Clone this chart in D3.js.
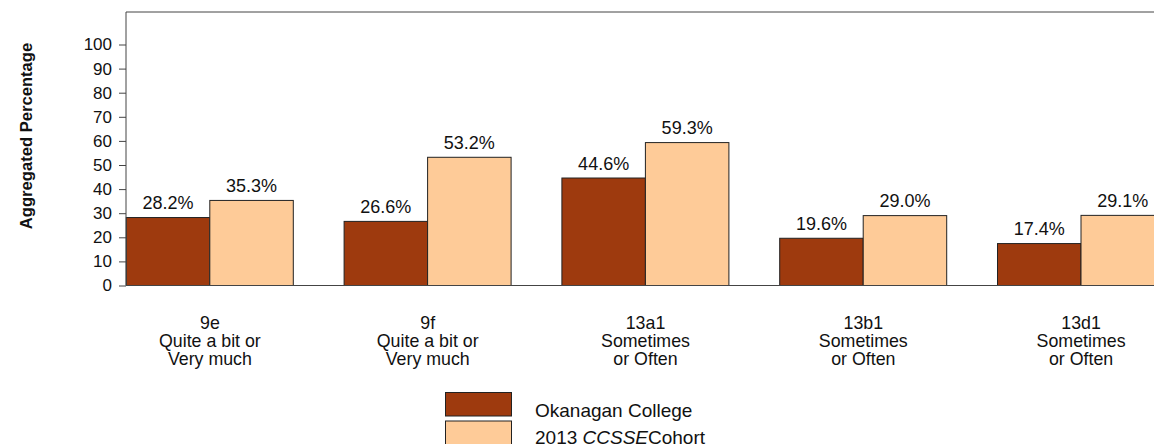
<!DOCTYPE html>
<html><head><meta charset="utf-8">
<script src="https://cdn.jsdelivr.net/npm/d3@7"></script>
<style>body{margin:0;background:#fff}svg{display:block;font-family:"Liberation Sans",Arial,sans-serif}</style>
</head><body>
<script>
const categories = ["9e","9f","13a1","13b1","13d1"];
const categoryLines = [["9e","Quite a bit or","Very much"],["9f","Quite a bit or","Very much"],["13a1","Sometimes","or Often"],["13b1","Sometimes","or Often"],["13d1","Sometimes","or Often"]];
const seriesNames = ["Okanagan College","2013 CCSSE Cohort"];
const okanagan = [28.2,26.6,44.6,19.6,17.4];
const cohort = [35.3,53.2,59.3,29.0,29.1];
const yTicks = [0,10,20,30,40,50,60,70,80,90,100];
const colors = ["#9e3a0e","#fecb98"];

(function(){
const W=1154,H=444;
const svg=d3.select("body").append("svg").attr("width",W).attr("height",H);
const pLeft=126, pTop=12, pBottom=285.5;
const y=d3.scaleLinear().domain([0,100]).range([pBottom,44.5]);
const x0=d3.scaleBand().domain(categories).range([101,101+5*217.8]);
const x1=d3.scaleBand().domain([0,1]).range([25.3,25.3+167]);

svg.append("line").attr("x1",pLeft).attr("x2",W).attr("y1",pTop).attr("y2",pTop).attr("stroke","#444");

const data=[okanagan,cohort];
categories.forEach((c,i)=>{
  const g=svg.append("g").attr("transform",`translate(${x0(c)},0)`);
  [0,1].forEach(s=>{
    const v=data[s][i];
    g.append("rect").attr("x",x1(s)).attr("width",x1.bandwidth()).attr("y",y(v)).attr("height",y(0)-y(v))
      .attr("fill",colors[s]).attr("stroke","#222").attr("stroke-width",1);
    g.append("text").attr("x",x1(s)+x1.bandwidth()/2).attr("y",y(v)-8.5).attr("text-anchor","middle")
      .attr("font-size",18).attr("fill","#111").text(v.toFixed(1)+"%");
  });
  const t=g.append("text").attr("text-anchor","middle").attr("font-size",17.8).attr("fill","#111");
  categoryLines[i].forEach((l,k)=>t.append("tspan").attr("x",x0.bandwidth()/2).attr("y",328.5+k*18).text(l));
});

const ya=svg.append("g").attr("transform",`translate(${pLeft},0)`)
  .call(d3.axisLeft(y).tickValues(yTicks).tickSize(7).tickPadding(7).tickSizeOuter(0));
ya.select(".domain").attr("d",`M0,${pTop}V${pBottom}`).attr("stroke","#444");
ya.selectAll(".tick line").attr("stroke","#444");
ya.selectAll("text").attr("font-size",17).attr("font-family","Liberation Sans, Arial, sans-serif").attr("fill","#111");
svg.append("line").attr("x1",pLeft).attr("x2",W).attr("y1",pBottom).attr("y2",pBottom).attr("stroke","#444");

svg.append("text").attr("transform","translate(32,136) rotate(-90)").attr("text-anchor","middle")
  .attr("font-size",16.6).attr("font-weight","bold").attr("fill","#111").text("Aggregated Percentage");

const lg=svg.append("g");
[0,1].forEach(s=>{
  lg.append("rect").attr("x",445.5).attr("y",392.5+s*28.5).attr("width",66).attr("height",23.5)
    .attr("fill",colors[s]).attr("stroke","#222");
});
lg.append("text").attr("x",535).attr("y",416.5).attr("font-size",19).attr("fill","#111").text(seriesNames[0]);
const t2=lg.append("text").attr("x",535).attr("y",443.5).attr("font-size",19).attr("fill","#111");
t2.append("tspan").text("2013 ");
t2.append("tspan").attr("font-style","italic").text("CCSSE");
t2.append("tspan").text("Cohort");
})();
</script>
</body></html>
